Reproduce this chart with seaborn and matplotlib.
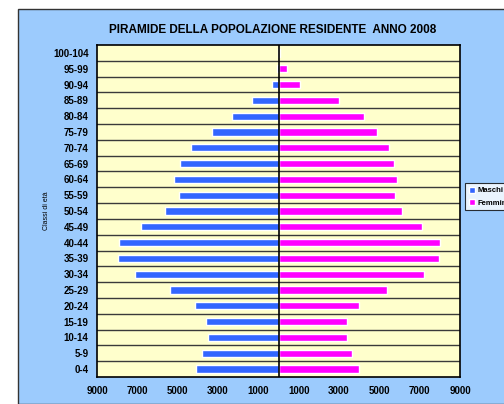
import matplotlib
matplotlib.use("Agg")
import matplotlib.pyplot as plt
from matplotlib.patches import Rectangle, Patch
import numpy as np
import pandas as pd
import seaborn as sns

# age classes, top to bottom as in the pyramid
age_classes = ["100-104", "95-99", "90-94", "85-89", "80-84", "75-79", "70-74",
               "65-69", "60-64", "55-59", "50-54", "45-49", "40-44", "35-39",
               "30-34", "25-29", "20-24", "15-19", "10-14", "5-9", "0-4"]
maschi = [10, 80, 330, 1320, 2310, 3300, 4350, 4890, 5190, 4940, 5640,
          6830, 7920, 7970, 7130, 5390, 4150, 3600, 3500, 3800, 4100]
femmine = [60, 430, 1080, 3010, 4250, 4890, 5490, 5740, 5890, 5790, 6130,
           7130, 8020, 7970, 7220, 5390, 4000, 3410, 3410, 3650, 4000]
x_ticks = [-9000, -7000, -5000, -3000, -1000, 1000, 3000, 5000, 7000, 9000]

df = pd.DataFrame({"eta": age_classes,
                   "Maschi": -np.array(maschi),
                   "Femmine": np.array(femmine)})

sns.set_style("white")
plt.rcParams["font.family"] = ["Liberation Sans", "DejaVu Sans"]
plt.rcParams["text.color"] = "black"
plt.rcParams["axes.labelcolor"] = "black"
plt.rcParams["xtick.color"] = "black"
plt.rcParams["ytick.color"] = "black"

fig = plt.figure(figsize=(5.04, 4.04), dpi=100, facecolor="white")
fig.patches.append(Rectangle((18 / 504, 0), 1.0, 1 - 9 / 404, transform=fig.transFigure,
                             facecolor="#9CCBFD", edgecolor="#333333", linewidth=1.0,
                             zorder=-5))

ax = fig.add_axes([97 / 504, 1 - 377 / 404, 363 / 504, 332 / 404])
ax.set_facecolor("#FFFFCC")

sns.barplot(data=df, y="eta", x="Maschi", orient="h", color="#3366FF",
            width=0.46, saturation=1, ax=ax, zorder=3)
sns.barplot(data=df, y="eta", x="Femmine", orient="h", color="#FF00FF",
            width=0.46, saturation=1, ax=ax, zorder=3)

n = len(age_classes)
for i in range(n - 1):
    ax.axhline(i + 0.5, color="#3a3a3a", linewidth=1.0, zorder=1)
ax.axvline(0, color="black", linewidth=1.2, zorder=4)

ax.set_xlim(-9000, 9000)
ax.set_ylim(n - 0.5, -0.5)
ax.set_xticks(x_ticks)
ax.set_xticklabels([str(abs(v)) for v in x_ticks], fontsize=7, fontweight="bold")
ax.tick_params(axis="x", direction="out", length=3, width=1, color="black", pad=3.5)
ax.tick_params(axis="y", length=0, pad=6)
for lbl in ax.get_yticklabels():
    lbl.set_fontsize(7)
    lbl.set_fontweight("bold")
ax.set_xlabel("")
ax.set_ylabel("Classi di età", fontsize=5)
ax.yaxis.set_label_coords(-0.13, 0.5)
for side in ["left", "right", "top", "bottom"]:
    ax.spines[side].set_visible(True)
    ax.spines[side].set_color("black")
    ax.spines[side].set_linewidth(1.2)

fig.text(273 / 504, 1 - 30 / 404, "PIRAMIDE DELLA POPOLAZIONE RESIDENTE  ANNO 2008",
         ha="center", va="center", fontsize=8.5, fontweight="bold", color="black")

handles = [Patch(facecolor="#3366FF", label="Maschi"),
           Patch(facecolor="#FF00FF", label="Femmine")]
leg = fig.legend(handles=handles, loc="upper left",
                 bbox_to_anchor=(465 / 504, 1 - 183 / 404), fontsize=5.5,
                 frameon=True, fancybox=False, handlelength=0.8, handleheight=0.8,
                 handletextpad=0.4, borderpad=0.5, labelspacing=0.6,
                 borderaxespad=0)
leg.get_frame().set_edgecolor("black")
leg.get_frame().set_facecolor("white")
leg.get_frame().set_linewidth(0.8)
for t in leg.get_texts():
    t.set_fontweight("bold")
    t.set_color("black")

fig.savefig("out.png", dpi=100, facecolor=fig.get_facecolor())
